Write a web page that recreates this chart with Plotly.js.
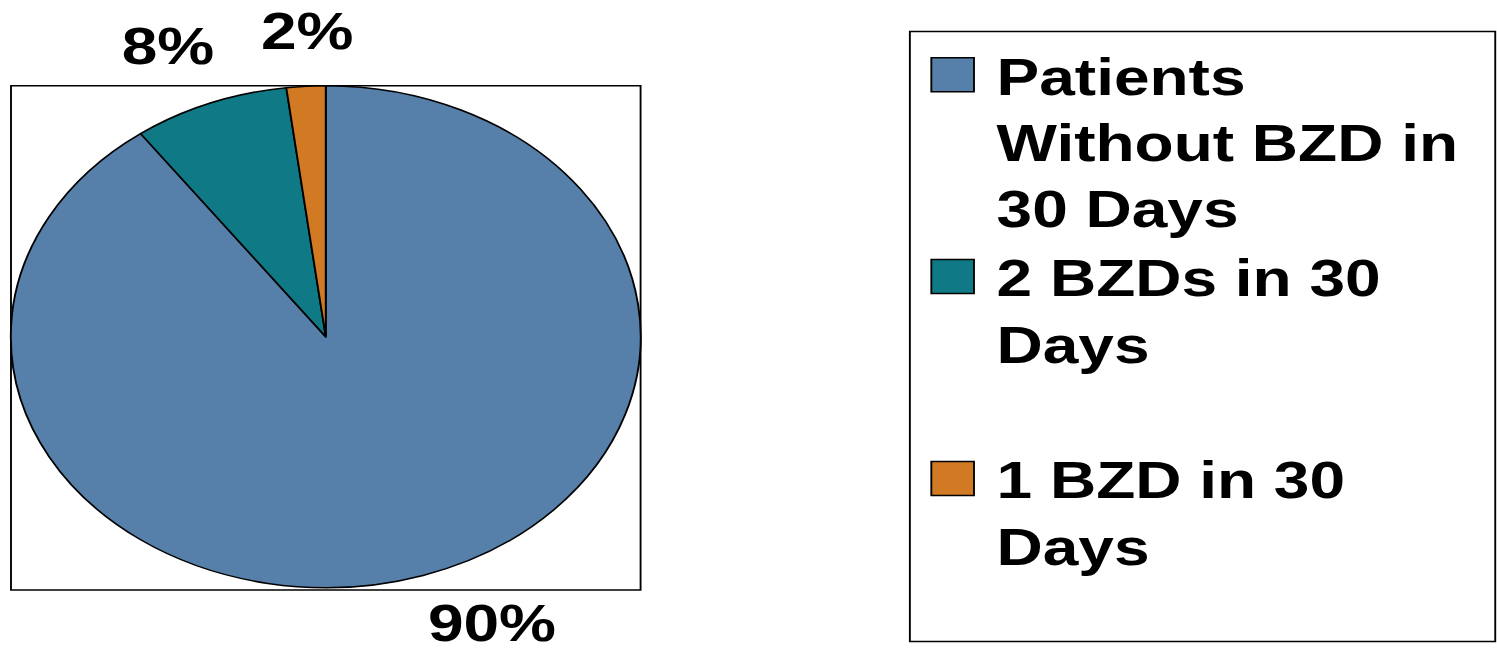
<!DOCTYPE html>
<html>
<head>
<meta charset="utf-8">
<script src="https://cdn.plot.ly/plotly-3.0.1.min.js"></script>
<style>
html, body { margin: 0; padding: 0; overflow: hidden; background: #ffffff; }
#chart { width: 1193px; height: 654px; transform: scaleX(1.25482); transform-origin: 0 0; }
</style>
</head>
<body>
<div id="chart"></div>
<script>
// ---- data ----
const categories = ['Patients<br>Without BZD in<br>30 Days', '2 BZDs in 30<br>Days<br> ', '1 BZD in 30<br>Days'];
const values = [90, 8, 2];
const sliceColors = ['#5680AA', '#0F7A85', '#D27A23'];

// ---- layout helpers ----
const W = 1193, H = 654;
const px = v => v / W;
const py = v => 1 - v / H;
const FONT = 'Liberation Sans, Arial, sans-serif';

const labelPos = [
  {x: px(391.8), y: py(623)},
  {x: px(134.1), y: py(46.5)},
  {x: px(245.0), y: py(31)}
];

const trace = {
  type: 'pie',
  labels: categories,
  values: values,
  sort: false,
  direction: 'clockwise',
  rotation: 0,
  textinfo: 'none',
  hoverinfo: 'label+percent',
  marker: { colors: sliceColors, line: { color: '#000000', width: 1.5 } },
  domain: { x: [px(8.6), px(510.6)], y: [py(587.7), py(85.7)] },
  showlegend: true
};

const annotations = values.map((v, i) => ({
  xref: 'paper', yref: 'paper',
  x: labelPos[i].x, y: labelPos[i].y,
  xanchor: 'center', yanchor: 'middle',
  text: v + '%', showarrow: false, borderpad: 0,
  font: { family: FONT, size: 51, color: '#000000', weight: 'bold' }
}));

const layout = {
  width: W, height: H, autosize: false,
  margin: { l: 0, r: 0, t: 0, b: 0, pad: 0 },
  paper_bgcolor: '#ffffff', plot_bgcolor: '#ffffff',
  showlegend: true,
  legend: {
    x: px(724.2), xanchor: 'left',
    y: py(35), yanchor: 'top',
    bgcolor: 'rgba(0,0,0,0)', borderwidth: 0,
    itemwidth: 60, valign: 'top',
    font: { family: FONT, size: 51, color: '#000000', weight: 'bold' },
    traceorder: 'normal'
  },
  shapes: [
    { type: 'rect', xref: 'paper', yref: 'paper', layer: 'below',
      x0: px(8.76), x1: px(510.5), y0: py(590), y1: py(85.7),
      line: { color: '#000000', width: 1.5 }, fillcolor: 'rgba(0,0,0,0)' },
    { type: 'rect', xref: 'paper', yref: 'paper', layer: 'below',
      x0: px(725.1), x1: px(1191.6), y0: py(641.6), y1: py(31.6),
      line: { color: '#000000', width: 1.5 }, fillcolor: 'rgba(0,0,0,0)' }
  ],
  annotations: annotations
};

Plotly.newPlot('chart', [trace], layout, { displayModeBar: false, staticPlot: true }).then(gd => {
  gd.querySelectorAll('path.legendpie').forEach(p => p.setAttribute('d', 'M17,17H-17V-17H17Z'));
});
</script>
</body>
</html>
